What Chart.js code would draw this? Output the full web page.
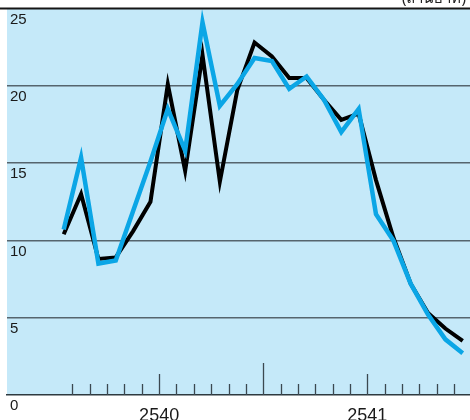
<!DOCTYPE html>
<html>
<head>
<meta charset="utf-8">
<script src="https://cdn.jsdelivr.net/npm/chart.js@4.4.0/dist/chart.umd.min.js"></script>
<style>
html,body{margin:0;padding:0;background:#fff;}
#wrap{width:470px;height:420px;position:relative;}
</style>
</head>
<body>
<div id="wrap"><canvas id="c" width="470" height="420"></canvas></div>
<script>
// Months Jan 2540 .. Dec 2541 (index 0..23)
const months = Array.from({length:24}, (_, i) => i);
const seriesBlack = [10.4, 13.0, 8.8, 8.9, 10.6, 12.5, 20.1, 14.5, 22.0, 13.8, 19.7, 22.8,
                     21.9, 20.5, 20.5, 19.1, 17.8, 18.2, 13.9, 10.2, 7.2, 5.3, 4.3, 3.5];
const seriesBlue  = [10.7, 15.35, 8.5, 8.7, 11.9, 15.1, 18.5, 15.8, 24.1, 18.7, 20.1, 21.8,
                     21.6, 19.8, 20.6, 19.1, 17.0, 18.5, 11.7, 10.0, 7.2, 5.2, 3.6, 2.7];
const yearLabels = {6: '2540', 18: '2541'};
const yTicks = [0, 5, 10, 15, 20, 25];
const unitText = '(ล้านบาท)';

const bgPlugin = {
  id: 'bg',
  beforeDraw(chart) {
    const {ctx, chartArea: a} = chart;
    ctx.save();
    ctx.fillStyle = '#c5e9f9';
    ctx.fillRect(a.left, a.top, a.right - a.left, a.bottom - a.top);
    ctx.restore();
  },
  afterDraw(chart) {
    const {ctx, chartArea: a} = chart;
    const xs = chart.scales.x, ys = chart.scales.y;
    ctx.save();
    ctx.strokeStyle = '#3b4850';
    ctx.lineWidth = 1.3;
    for (let v = 1; v < 24; v++) {
      const px = Math.round(xs.getPixelForValue(v)) + 0.5;
      const len = (v % 12 === 0) ? 32 : (v % 6 === 0 ? 21 : 11);
      ctx.beginPath();
      ctx.moveTo(px, a.bottom);
      ctx.lineTo(px, a.bottom - len);
      ctx.stroke();
    }
    const ty = ys.getPixelForValue(25);
    ctx.strokeStyle = '#151515';
    ctx.lineWidth = 2;
    ctx.beginPath();
    ctx.moveTo(0, ty);
    ctx.lineTo(chart.width, ty);
    ctx.stroke();
    ctx.fillStyle = '#222';
    ctx.font = '15px "Noto Sans", "Liberation Sans", sans-serif';
    ctx.textAlign = 'right';
    ctx.textBaseline = 'alphabetic';
    ctx.fillText(unitText, 466, 3);
    ctx.restore();
  }
};

new Chart(document.getElementById('c'), {
  type: 'line',
  data: {
    datasets: [
      {
        label: 'B',
        data: seriesBlue.map((v, i) => ({x: months[i] + 0.5, y: v})),
        borderColor: '#0ba6e6',
        borderWidth: 4.5,
        pointRadius: 0,
        tension: 0,
        borderJoinStyle: 'miter',
        order: 1
      },
      {
        label: 'A',
        data: seriesBlack.map((v, i) => ({x: months[i] + 0.5, y: v})),
        borderColor: '#000000',
        borderWidth: 4,
        pointRadius: 0,
        tension: 0,
        borderJoinStyle: 'miter',
        order: 2
      }
    ]
  },
  options: {
    responsive: false,
    animation: false,
    layout: {padding: {left: 7, top: 8.5, right: 0, bottom: 0}},
    plugins: {legend: {display: false}, tooltip: {enabled: false}},
    scales: {
      x: {
        type: 'linear',
        min: -2.77,
        max: 23.92,
        grid: {display: false},
        border: {display: true, color: '#2e3a40', width: 1.5},
        afterBuildTicks: s => { s.ticks = Object.keys(yearLabels).map(k => ({value: +k})); },
        afterFit: s => { s.height = 25; s.paddingLeft = 0; s.paddingRight = 0; },
        ticks: {
          autoSkip: false,
          maxRotation: 0,
          padding: 2,
          color: '#1a1a1a',
          font: {family: '"Liberation Sans", Arial, sans-serif', size: 18},
          callback: v => yearLabels[v] || ''
        }
      },
      y: {
        min: 0,
        max: 25,
        afterBuildTicks: s => { s.ticks = yTicks.map(v => ({value: v})); },
        afterFit: s => { s.width = 0; s.paddingTop = 0; s.paddingBottom = 0; },
        border: {display: false},
        grid: {
          drawTicks: false,
          color: c => (c.tick.value === 0 || c.tick.value === 25) ? 'rgba(0,0,0,0)' : '#56656e',
          lineWidth: 1.5
        },
        ticks: {
          mirror: true,
          padding: 3,
          labelOffset: 11,
          color: '#1a1a1a',
          font: {family: '"Liberation Sans", Arial, sans-serif', size: 15}
        }
      }
    }
  },
  plugins: [bgPlugin]
});
</script>
</body>
</html>
